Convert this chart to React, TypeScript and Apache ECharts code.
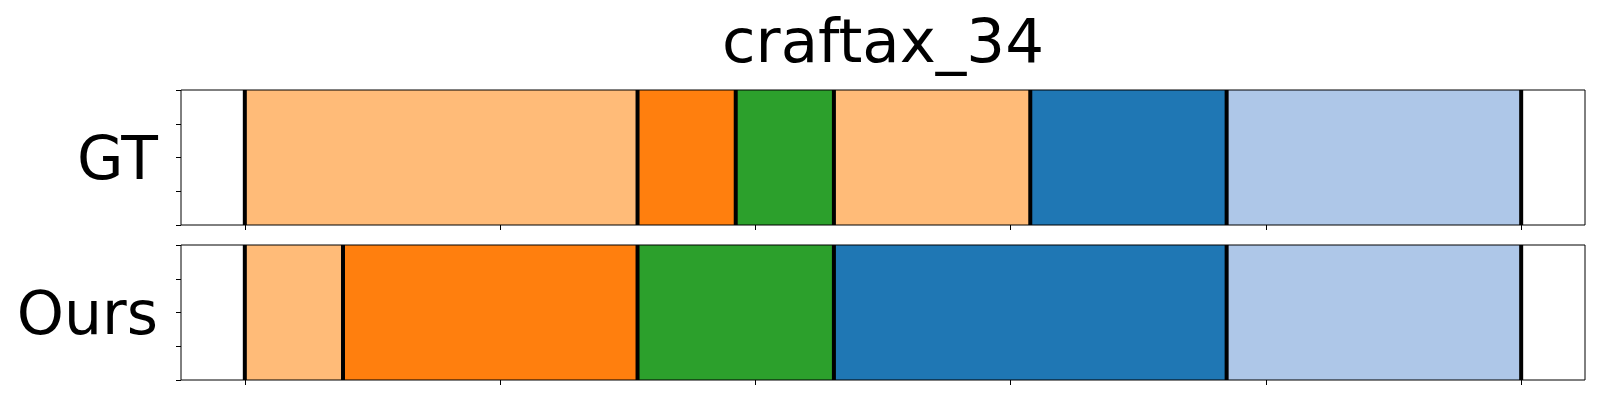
import React, { useEffect, useRef } from "react";
import * as echarts from "echarts";

const title = "craftax_34";
const rowLabels = ["GT", "Ours"];
const totalSteps = 13;
const gtSegmentKeys = ["lightOrange", "orange", "green", "lightOrange", "blue", "lightBlue"];
const gtSegmentSteps = [4, 1, 1, 2, 2, 3];
const oursSegmentKeys = ["lightOrange", "orange", "green", "blue", "lightBlue"];
const oursSegmentSteps = [1, 3, 2, 4, 3];
const xTickValues = [0, 0.2, 0.4, 0.6, 0.8, 1.0];
const colorMap: Record<string, string> = {
  lightOrange: "#ffbb78",
  orange: "#ff7f0e",
  green: "#2ca02c",
  blue: "#1f77b4",
  lightBlue: "#aec7e8",
};

function buildSegments(keys: string[], steps: number[]) {
  const segs: any[] = [];
  const bounds: number[][] = [];
  let acc = 0;
  bounds.push([0, 0]);
  keys.forEach((k, i) => {
    const s = acc / totalSteps;
    acc += steps[i];
    const e = acc / totalSteps;
    segs.push({ value: [s, e], itemStyle: { color: colorMap[k] } });
    bounds.push([e, 0]);
  });
  return { segs, bounds };
}

const FONT = "DejaVu Sans";

export default function App() {
  const ref = useRef<HTMLDivElement>(null);
  useEffect(() => {
    document.body.style.margin = "0";
    const chart = echarts.init(ref.current!, null, { renderer: "svg" });
    const rows = [
      buildSegments(gtSegmentKeys, gtSegmentSteps),
      buildSegments(oursSegmentKeys, oursSegmentSteps),
    ];
    const grids = [
      { left: 181, top: 90, width: 1404, height: 135 },
      { left: 181, top: 245, width: 1404, height: 135 },
    ].map((g) => ({ ...g, show: true, borderColor: "#000", borderWidth: 1, backgroundColor: "transparent", z: 10 }));

    const xAxes = grids.map((_, i) => ({
      type: "value",
      gridIndex: i,
      min: -0.05,
      max: 1.05,
      position: "bottom",
      axisLine: { show: false, onZero: false },
      axisTick: { show: true, inside: false, length: 5, customValues: xTickValues, lineStyle: { color: "#000", width: 1 } },
      axisLabel: { show: false },
      splitLine: { show: false },
    }));
    const yAxes = grids.map((_, i) => ({
      type: "value",
      gridIndex: i,
      min: 0,
      max: 1,
      interval: 0.25,
      position: "left",
      name: rowLabels[i],
      nameLocation: "middle",
      nameRotate: 0,
      nameGap: 23,
      nameTextStyle: { fontFamily: FONT, fontSize: 60, color: "#000", align: "right", verticalAlign: "middle" },
      axisLine: { show: false, onZero: false },
      axisTick: { show: true, inside: false, length: 5, lineStyle: { color: "#000", width: 1 } },
      axisLabel: { show: false },
      splitLine: { show: false },
    }));

    const series: any[] = [];
    rows.forEach((r, i) => {
      series.push({
        type: "custom",
        xAxisIndex: i,
        yAxisIndex: i,
        z: 1,
        encode: { x: [0, 1] },
        data: r.segs,
        renderItem: (params: any, api: any) => {
          const p0 = api.coord([api.value(0), 1]);
          const p1 = api.coord([api.value(1), 0]);
          return {
            type: "rect",
            shape: { x: p0[0], y: p0[1], width: p1[0] - p0[0], height: p1[1] - p0[1] },
            style: { fill: api.visual("color") },
          };
        },
      });
      series.push({
        type: "custom",
        xAxisIndex: i,
        yAxisIndex: i,
        z: 2,
        encode: { x: 0, y: 1 },
        data: r.bounds,
        renderItem: (params: any, api: any) => {
          const p0 = api.coord([api.value(0), 1]);
          const p1 = api.coord([api.value(0), 0]);
          return {
            type: "line",
            shape: { x1: p0[0], y1: p0[1], x2: p1[0], y2: p1[1] },
            style: { stroke: "#000", lineWidth: 4 },
          };
        },
      });
    });

    chart.setOption({
      animation: false,
      backgroundColor: "#fff",
      grid: grids,
      xAxis: xAxes,
      yAxis: yAxes,
      series,
      graphic: [
        {
          type: "text",
          x: 883,
          y: 40,
          style: {
            text: title,
            fontFamily: FONT,
            fontSize: 61,
            fill: "#000",
            textAlign: "center",
            textVerticalAlign: "middle",
          },
        },
      ],
    });
    return () => chart.dispose();
  }, []);
  return <div ref={ref} style={{ width: 1600, height: 400 }} />;
}
